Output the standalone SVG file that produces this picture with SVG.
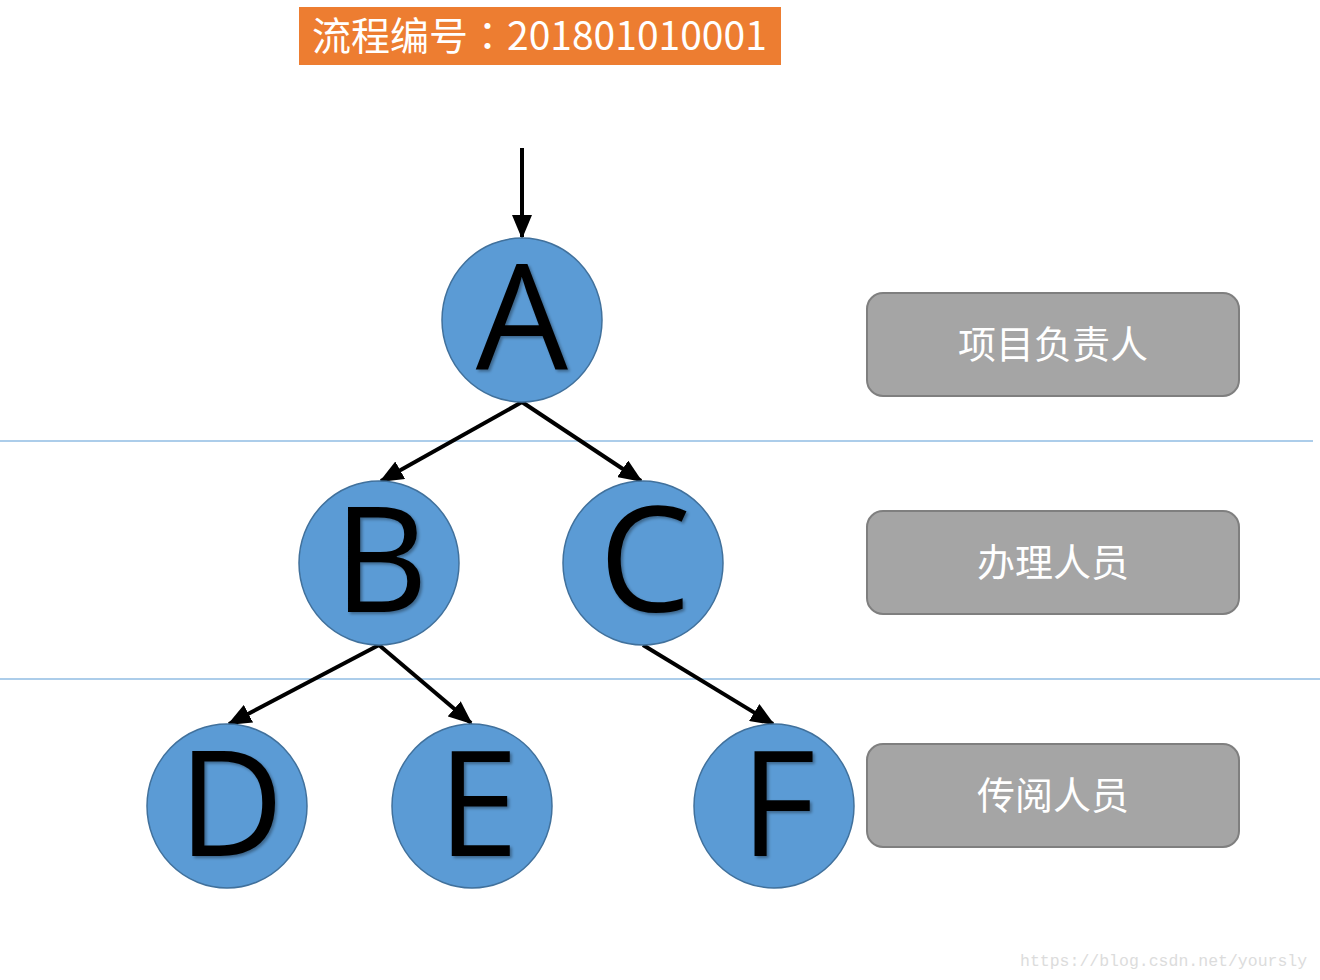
<svg xmlns="http://www.w3.org/2000/svg" width="1320" height="980" viewBox="0 0 1320 980">
<style>
.node{fill:#5B9BD5;stroke:#41719C;stroke-width:1.5}
.letter{font-family:"Open Sans","Liberation Sans",sans-serif;font-size:146px;fill:#000;text-anchor:middle;filter:url(#sh)}
.role rect{fill:#A5A5A5;stroke:#7F7F7F;stroke-width:2}
.role text{font-family:"Noto Sans CJK SC","Noto Sans",sans-serif;font-size:38px;fill:#fff;text-anchor:middle}
.edge{stroke:#000;stroke-width:4;fill:none;marker-end:url(#arr)}
.sep{stroke:#5B9BD5;stroke-width:1.2}
</style>
<defs>
<marker id="arr" markerUnits="userSpaceOnUse" markerWidth="24" markerHeight="20" viewBox="0 0 24 20" refX="22" refY="10" orient="auto">
<path d="M0,0 L24,10 L0,20 Z" fill="#000"/>
</marker>
<filter id="sh" x="-20%" y="-20%" width="140%" height="140%">
<feDropShadow dx="2" dy="2" stdDeviation="1.5" flood-color="#000" flood-opacity="0.35"/>
</filter>
</defs>
<rect width="1320" height="980" fill="#fff"/>
<g id="title">
<rect x="299" y="7" width="482" height="58" fill="#ED7D31"/>
<text x="312" y="50" font-family="Noto Sans CJK SC,Noto Sans,sans-serif" font-size="39" fill="#fff">流程编号<tspan font-family="Noto Sans CJK JP,sans-serif">：</tspan>201801010001</text>
</g>
<g id="separators">
<line class="sep" x1="0" y1="441" x2="1313" y2="441"/>
<line class="sep" x1="0" y1="679" x2="1320" y2="679"/>
</g>
<g id="connectors">
<line class="edge" x1="522" y1="148" x2="522" y2="237"/>
<line class="edge" x1="522" y1="402" x2="381" y2="481"/>
<line class="edge" x1="522" y1="402" x2="641" y2="481"/>
<line class="edge" x1="379" y1="645" x2="229" y2="724"/>
<line class="edge" x1="379" y1="645" x2="471" y2="723"/>
<line class="edge" x1="643" y1="645" x2="773" y2="724"/>
</g>
<g id="A"><ellipse class="node" cx="522" cy="320" rx="80" ry="82"/><text class="letter" x="522" y="369">A</text></g>
<g id="B"><ellipse class="node" cx="379" cy="563" rx="80" ry="82"/><text class="letter" x="381" y="612">B</text></g>
<g id="C"><ellipse class="node" cx="643" cy="563" rx="80" ry="82"/><text class="letter" x="645" y="612">C</text></g>
<g id="D"><ellipse class="node" cx="227" cy="806" rx="80" ry="82"/><text class="letter" x="231" y="856">D</text></g>
<g id="E"><ellipse class="node" cx="472" cy="806" rx="80" ry="82"/><text class="letter" x="478" y="856">E</text></g>
<g id="F"><ellipse class="node" cx="774" cy="806" rx="80" ry="82"/><text class="letter" x="778" y="856">F</text></g>
<g id="role1" class="role"><rect x="867" y="293" width="372" height="103" rx="16"/><text x="1053" y="358">项目负责人</text></g>
<g id="role2" class="role"><rect x="867" y="511" width="372" height="103" rx="16"/><text x="1053" y="576">办理人员</text></g>
<g id="role3" class="role"><rect x="867" y="744" width="372" height="103" rx="16"/><text x="1053" y="809">传阅人员</text></g>
<text x="1020" y="966" font-family="Liberation Mono,monospace" font-size="16.5" fill="#DCDCDC">https://blog.csdn.net/yoursly</text>
</svg>
